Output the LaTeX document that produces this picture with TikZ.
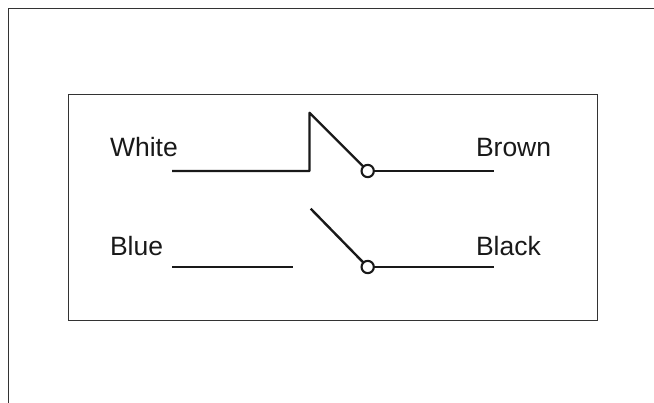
\documentclass[tikz,border=0pt]{standalone}
\usepackage{fontspec}
\setmainfont{Liberation Sans}
\begin{document}
\begin{tikzpicture}[x=1pt,y=-1pt,
  wire/.style={line width=2.4pt,draw=black!90},
  thin box/.style={line width=1.1pt,draw=black!80},
  lab/.style={font=\fontsize{26.5}{28}\selectfont,inner sep=0pt,anchor=base west,text=black!90},
  pivot/.style={circle,draw=black!90,line width=2.1pt,fill=white,minimum size=12.3pt,inner sep=0pt}]
\useasboundingbox (0,0) rectangle (654,403);
\draw[thin box] (8.5,403) -- (8.5,8.5) -- (654,8.5);
\draw[thin box] (68.5,94.5) rectangle (597.5,320.3);
\node[lab] (white) at (109.8,157) {White};
\node[lab] (blue) at (109.8,256) {Blue};
\node[lab] (brown) at (475.8,157) {Brown};
\node[lab] (black) at (475.8,256) {Black};
\coordinate (w1) at (172,171);
\coordinate (w2) at (309.5,171);
\coordinate (w3) at (309.5,112.8);
\coordinate (p1c) at (367.7,171);
\coordinate (w4) at (494,171);
\coordinate (b1) at (172,267);
\coordinate (b2) at (292.5,267);
\coordinate (s2) at (310.7,208.7);
\coordinate (p2c) at (367.7,267);
\coordinate (b4) at (494,267);
\draw[wire,line join=round] (w1) -- (w2) -- (w3) -- (p1c);
\draw[wire] (p1c) -- (w4);
\draw[wire] (b1) -- (b2);
\draw[wire] (s2) -- (p2c);
\draw[wire] (p2c) -- (b4);
\node[pivot] (p1) at (p1c) {};
\node[pivot] (p2) at (p2c) {};
\end{tikzpicture}
\end{document}
